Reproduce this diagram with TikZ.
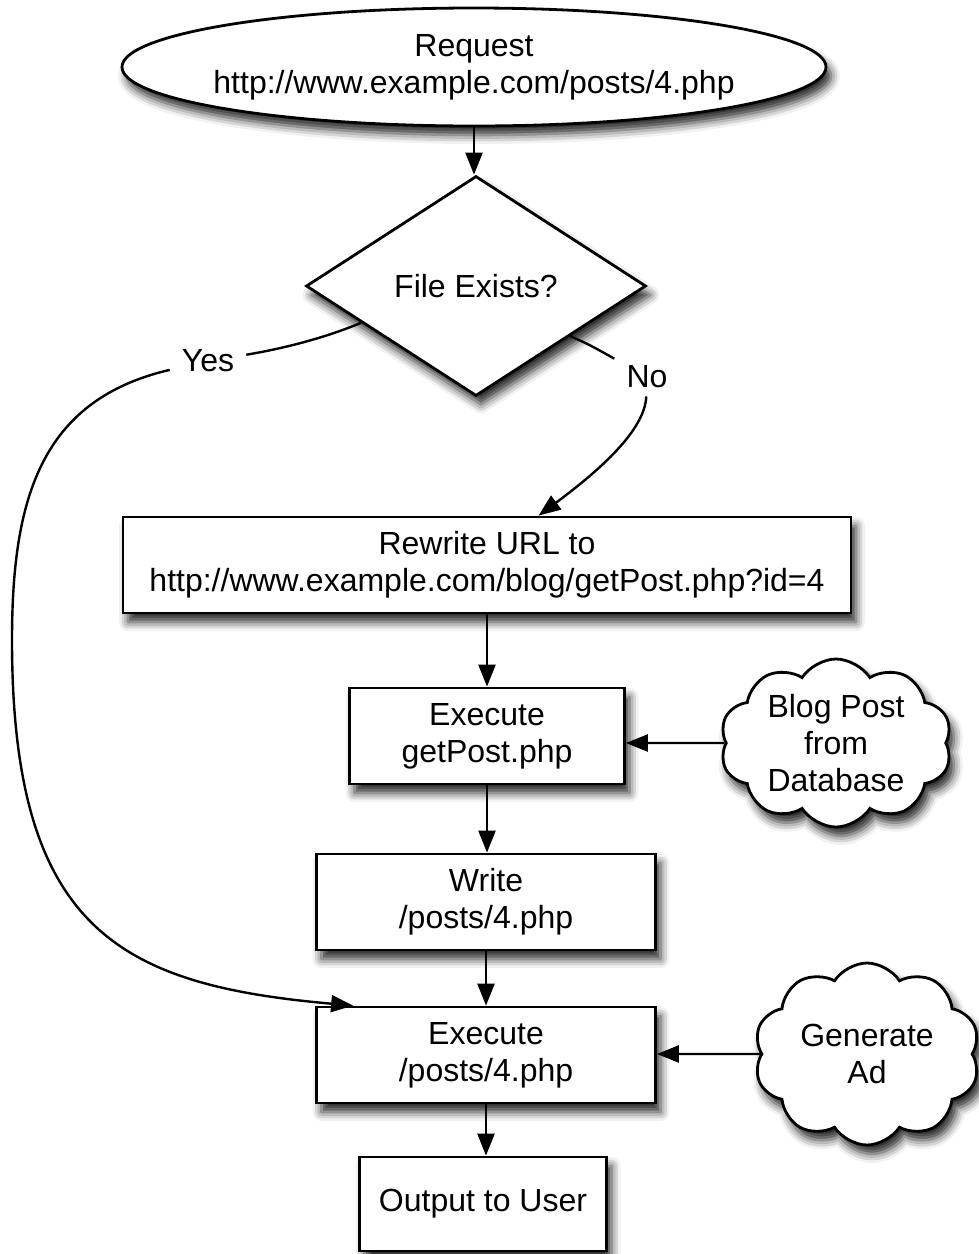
\documentclass[tikz,border=0pt]{standalone}
\usepackage{fontspec}
\setmainfont{Liberation Sans}
\usetikzlibrary{shapes.geometric,shapes.symbols,shadows.blur,arrows.meta,calc}

\begin{document}
\begin{tikzpicture}[x=1pt,y=-1pt,
  every node/.style={font=\fontsize{32}{37}\selectfont, align=center},
  dropshadow/.style={blur shadow={shadow xshift=5pt,shadow yshift=-9pt,shadow blur radius=9pt,shadow opacity=85}},
  outline/.style={draw, line width=2.8pt, fill=white, dropshadow},
  box/.style={outline, rectangle, inner sep=0pt, minimum height=96pt},
  puff/.style={outline, cloud, cloud puffs=10, cloud puff arc=115, cloud ignores aspect, inner sep=0pt},
  lbl/.style={inner xsep=12pt, inner ysep=8pt},
  arr/.style={line width=2.4pt, -{Triangle[length=22pt,width=17pt]}},
  link/.style={line width=2.4pt}
]
\useasboundingbox (0,0) rectangle (979,1254);

% main flow
\node[outline, ellipse, inner xsep=-13pt, inner ysep=0pt, minimum width=704pt, minimum height=118pt] (req) at (474,67)
  {Request\\http://www.example.com/posts/4.php};
\node[outline, diamond, inner sep=0pt, minimum width=340pt, minimum height=220pt] (dia) at (476,286)
  {File Exists?};
\node[box, minimum width=728pt] (rw) at (487,565)
  {Rewrite URL to\\http://www.example.com/blog/getPost.php?id=4};
\node[box, minimum width=275pt] (ex1) at (487,736) {Execute\\getPost.php};
\node[box, minimum width=339pt] (wr) at (486,902) {Write\\/posts/4.php};
\node[box, minimum width=339pt] (ex2) at (486,1055) {Execute\\/posts/4.php};
\node[box, minimum width=247pt, minimum height=94pt] (out) at (483,1204) {Output to User};

% side inputs
\node[puff, minimum width=232pt, minimum height=168pt] (db) at (836,743) {Blog Post\\from\\Database};
\node[puff, minimum width=226pt, minimum height=182pt] (ad) at (867,1054) {Generate\\Ad};

% branch labels
\node[lbl] (yes) at (208,361) {Yes};
\node[lbl] (no) at (647,377) {No};

% connectors
\draw[arr] (req.south) -- (req.south |- dia.north);
\draw[arr] (rw.south) -- (rw.south |- ex1.north);
\draw[arr] (ex1.south) -- (ex1.south |- wr.north);
\draw[arr] (wr.south) -- (wr.south |- ex2.north);
\draw[arr] (ex2.south) -- (ex2.south |- out.north);
\draw[arr] (db) -- (db -| ex1.east);
\draw[arr] (ad) -- (ad -| ex2.east);

% yes branch
\coordinate (yesstart) at ($(dia.west)!0.33!(dia.south)$);
\coordinate (yesend) at ($(ex2.north west)+(38,0)$);
\draw[link] (yesstart) .. controls (320,340) and (275,350) .. (yes);
\draw[arr] (yes) .. controls (40,400) and (12,500) .. (12,640)
  .. controls (12,930) and (120,985) .. (yesend);

% no branch
\coordinate (nostart) at ($(dia.south)!0.55!(dia.east)$);
\coordinate (noend) at ($(rw.north west)+(417,0)$);
\draw[link] (nostart) .. controls (590,345) .. (no);
\draw[arr] (no) .. controls (645,430) and (600,470) .. (noend);
\end{tikzpicture}
\end{document}
